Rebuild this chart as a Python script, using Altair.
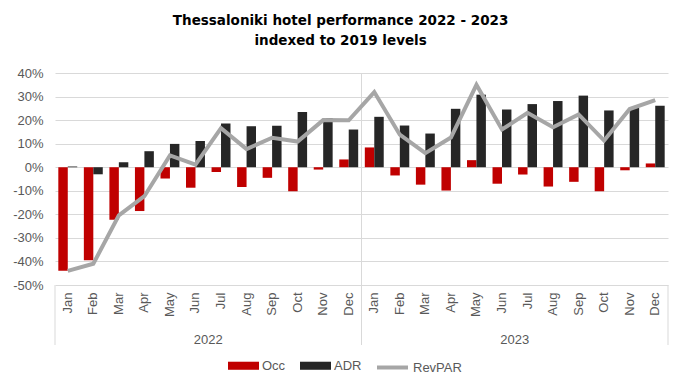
import altair as alt
import pandas as pd

months = ["Jan", "Feb", "Mar", "Apr", "May", "Jun", "Jul", "Aug", "Sep", "Oct", "Nov", "Dec"]
years = ["2022", "2023"]

occ_2022 = [-44.0, -39.5, -22.3, -18.6, -4.8, -8.7, -2.0, -8.4, -4.5, -10.2, -1.0, 3.3]
adr_2022 = [0.3, -3.0, 2.1, 6.8, 9.9, 11.1, 18.6, 17.4, 17.6, 23.4, 20.9, 16.0]
rev_2022 = [-44.0, -41.0, -20.4, -12.3, 5.0, 1.1, 16.6, 7.7, 12.5, 10.9, 20.0, 19.9]
occ_2023 = [8.4, -3.5, -7.4, -9.9, 3.0, -7.0, -3.1, -8.2, -6.2, -10.2, -1.3, 1.6]
adr_2023 = [21.4, 17.7, 14.3, 24.8, 30.8, 24.5, 26.8, 28.1, 30.4, 24.1, 25.2, 26.1]
rev_2023 = [31.9, 13.8, 6.0, 12.6, 35.0, 16.0, 23.1, 17.0, 22.4, 11.3, 24.7, 28.5]

y_ticks = [-50, -40, -30, -20, -10, 0, 10, 20, 30, 40]
bar_series = ["Occ", "ADR"]
bar_colors = ["#c00000", "#262626"]
line_series = ["RevPAR"]
line_colors = ["#a6a6a6"]

rows = []
for yr, occ, adr, rev in [("2022", occ_2022, adr_2022, rev_2022), ("2023", occ_2023, adr_2023, rev_2023)]:
    for i, m in enumerate(months):
        key = f"{m} {yr}"
        rows.append({"key": key, "series": "Occ", "value": occ[i]})
        rows.append({"key": key, "series": "ADR", "value": adr[i]})
        rows.append({"key": key, "series": "RevPAR", "value": rev[i]})
df = pd.DataFrame(rows)
order = [f"{m} {y}" for y in years for m in months]

W, H = 613, 212
FONT = "Liberation Sans"
GREY = "#595959"
LINE = "#d9d9d9"

xscale = alt.Scale(domain=order, paddingInner=0, paddingOuter=0)
yscale = alt.Scale(domain=[-50, 40], nice=False, zero=False)

xaxis = alt.Axis(
    title=None, labelAngle=270, labelExpr="slice(datum.label, 0, 3)",
    labelFont=FONT, labelFontSize=13, labelColor=GREY, tickSize=0,
    labelPadding=7, domain=False, grid=False, labelOverlap=False,
)
yaxis = alt.Axis(
    title=None, values=y_ticks, tickCount=10, labelExpr="datum.value + '%'",
    labelFont=FONT, labelFontSize=13,
    labelColor=GREY, tickSize=0, labelPadding=12, domain=False,
    grid=True, gridColor=LINE, gridWidth=1, labelOverlap=False,
)

legend_common = dict(
    title=None, orient="none", direction="horizontal",
    labelFont=FONT, labelFontSize=13, labelColor=GREY, labelOffset=3,
    columnPadding=14, symbolSize=961,
)

base = alt.Chart(df)

bars = base.transform_filter(alt.datum.series != "RevPAR").mark_bar().encode(
    x=alt.X("key:N", sort=order, scale=xscale, axis=xaxis),
    xOffset=alt.XOffset("series:N", scale=alt.Scale(domain=bar_series, paddingOuter=0.35, paddingInner=0)),
    y=alt.Y("value:Q", scale=yscale, axis=yaxis),
    fill=alt.Fill(
        "series:N",
        scale=alt.Scale(domain=bar_series, range=bar_colors),
        legend=alt.Legend(legendX=173, legendY=277, symbolType="M-1,-0.26H1V0.26H-1Z",
                          symbolStrokeWidth=0, **legend_common),
    ),
)

line = base.transform_filter(alt.datum.series == "RevPAR").mark_line(strokeWidth=4).encode(
    x=alt.X("key:N", sort=order, scale=xscale, axis=xaxis),
    y=alt.Y("value:Q", scale=yscale, axis=yaxis),
    stroke=alt.Stroke(
        "series:N",
        scale=alt.Scale(domain=line_series, range=line_colors),
        legend=alt.Legend(legendX=320, legendY=277, symbolType="stroke",
                          symbolStrokeWidth=4, **legend_common),
    ),
)

mid_rule = alt.Chart(pd.DataFrame({"key": ["Jan 2023"]})).mark_rule(color=LINE, strokeWidth=1).encode(
    x=alt.X("key:N", sort=order, scale=xscale, bandPosition=0, axis=xaxis),
    y=alt.value(0), y2=alt.value(H + 60),
)
left_rule = alt.Chart(pd.DataFrame({"key": ["Jan 2022"]})).mark_rule(color=LINE, strokeWidth=1).encode(
    x=alt.X("key:N", sort=order, scale=xscale, bandPosition=0, axis=xaxis),
    y=alt.value(H), y2=alt.value(H + 60),
)
right_rule = alt.Chart(pd.DataFrame({"key": ["Dec 2023"]})).mark_rule(color=LINE, strokeWidth=1).encode(
    x=alt.X("key:N", sort=order, scale=xscale, bandPosition=1, axis=xaxis),
    y=alt.value(H), y2=alt.value(H + 60),
)

year_df = pd.DataFrame({"key": ["Jul 2022", "Jul 2023"], "year": years})
year_text = alt.Chart(year_df).mark_text(font=FONT, fontSize=13, color=GREY, baseline="middle").encode(
    x=alt.X("key:N", sort=order, scale=xscale, bandPosition=0, axis=xaxis),
    y=alt.value(H + 55),
    text="year:N",
)

chart = alt.layer(mid_rule, left_rule, right_rule, bars, line, year_text).properties(
    width=W, height=H,
    title=alt.TitleParams(
        ["Thessaloniki hotel performance 2022 - 2023", "indexed to 2019 levels"],
        font="DejaVu Sans", fontSize=13.5, fontWeight="bold", color="#000000",
        anchor="middle", frame="bounds", lineHeight=20, offset=20,
    ),
    autosize=alt.AutoSizeParams(type="none"),
    padding={"left": 47, "top": 65, "right": 4, "bottom": 90},
).resolve_scale(fill="independent", stroke="independent").configure_view(strokeWidth=0)

chart.save("out.html", embed_options={"renderer": "svg", "actions": False})
